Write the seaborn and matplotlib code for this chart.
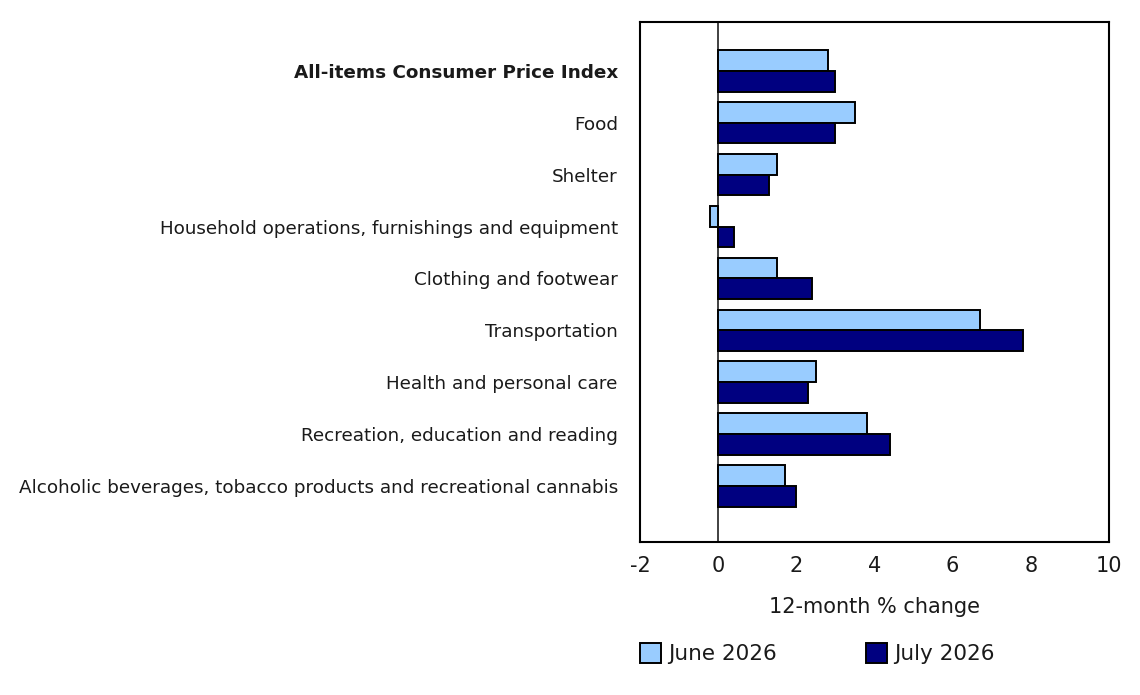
import seaborn as sns
import matplotlib.pyplot as plt
import pandas as pd

categories = [
    'All-items Consumer Price Index',
    'Food',
    'Shelter',
    'Household operations, furnishings and equipment',
    'Clothing and footwear',
    'Transportation',
    'Health and personal care',
    'Recreation, education and reading',
    'Alcoholic beverages, tobacco products and recreational cannabis',
]
june = [2.8, 3.5, 1.5, -0.2, 1.5, 6.7, 2.5, 3.8, 1.7]
july = [3.0, 3.0, 1.3, 0.4, 2.4, 7.8, 2.3, 4.4, 2.0]
periods = ['June 2026', 'July 2026']
xticks = [-2, 0, 2, 4, 6, 8, 10]


def do_plot():
    sns.set_style('white')
    plt.rcParams['font.family'] = ['DejaVu Sans']
    plt.rcParams['text.color'] = '#1a1a1a'
    plt.rcParams['xtick.color'] = '#1a1a1a'
    plt.rcParams['ytick.color'] = '#1a1a1a'
    plt.rcParams['axes.labelcolor'] = '#1a1a1a'

    df = pd.DataFrame({
        'category': categories * 2,
        'value': june + july,
        'period': [periods[0]] * len(categories) + [periods[1]] * len(categories),
    })

    fig = plt.figure(figsize=(11.4, 6.95), dpi=100)
    ax = fig.add_axes([0.5614, 0.2201, 0.4114, 0.7482])

    sns.barplot(data=df, x='value', y='category', hue='period', orient='h',
                palette=['#99ccff', '#000080'], saturation=1,
                edgecolor='black', linewidth=1.4, width=0.8, ax=ax)

    ax.axvline(0, color='#333333', linewidth=1.3, zorder=0)
    ax.set_xlim(-2, 10)
    ax.set_ylim(9.08, -0.94)
    ax.set_xticks(xticks)
    ax.set_xticklabels([str(t) for t in xticks], fontsize=15)
    ax.tick_params('x', direction='in', length=7, width=1.3, color='#333333', pad=10)
    ax.tick_params('y', length=0, labelsize=13.25, pad=16)
    for lab in ax.get_yticklabels():
        if lab.get_text() == categories[0]:
            lab.set_fontweight('bold')

    for sp in ax.spines.values():
        sp.set_visible(True)
        sp.set_color('black')
        sp.set_linewidth(1.5)

    ax.set_ylabel('')
    ax.set_xlabel('12-month % change', fontsize=15, labelpad=15)

    handles, labels = ax.get_legend_handles_labels()
    ax.get_legend().remove()
    fig.legend(handles, labels, loc='center left', bbox_to_anchor=(0.5445, 0.06),
               ncol=2, frameon=False, fontsize=15.5, handlelength=0.95,
               handleheight=1.05, handletextpad=0.35, columnspacing=4.15)

    plt.savefig('out.png', dpi=100)


if __name__ == '__main__':
    do_plot()
